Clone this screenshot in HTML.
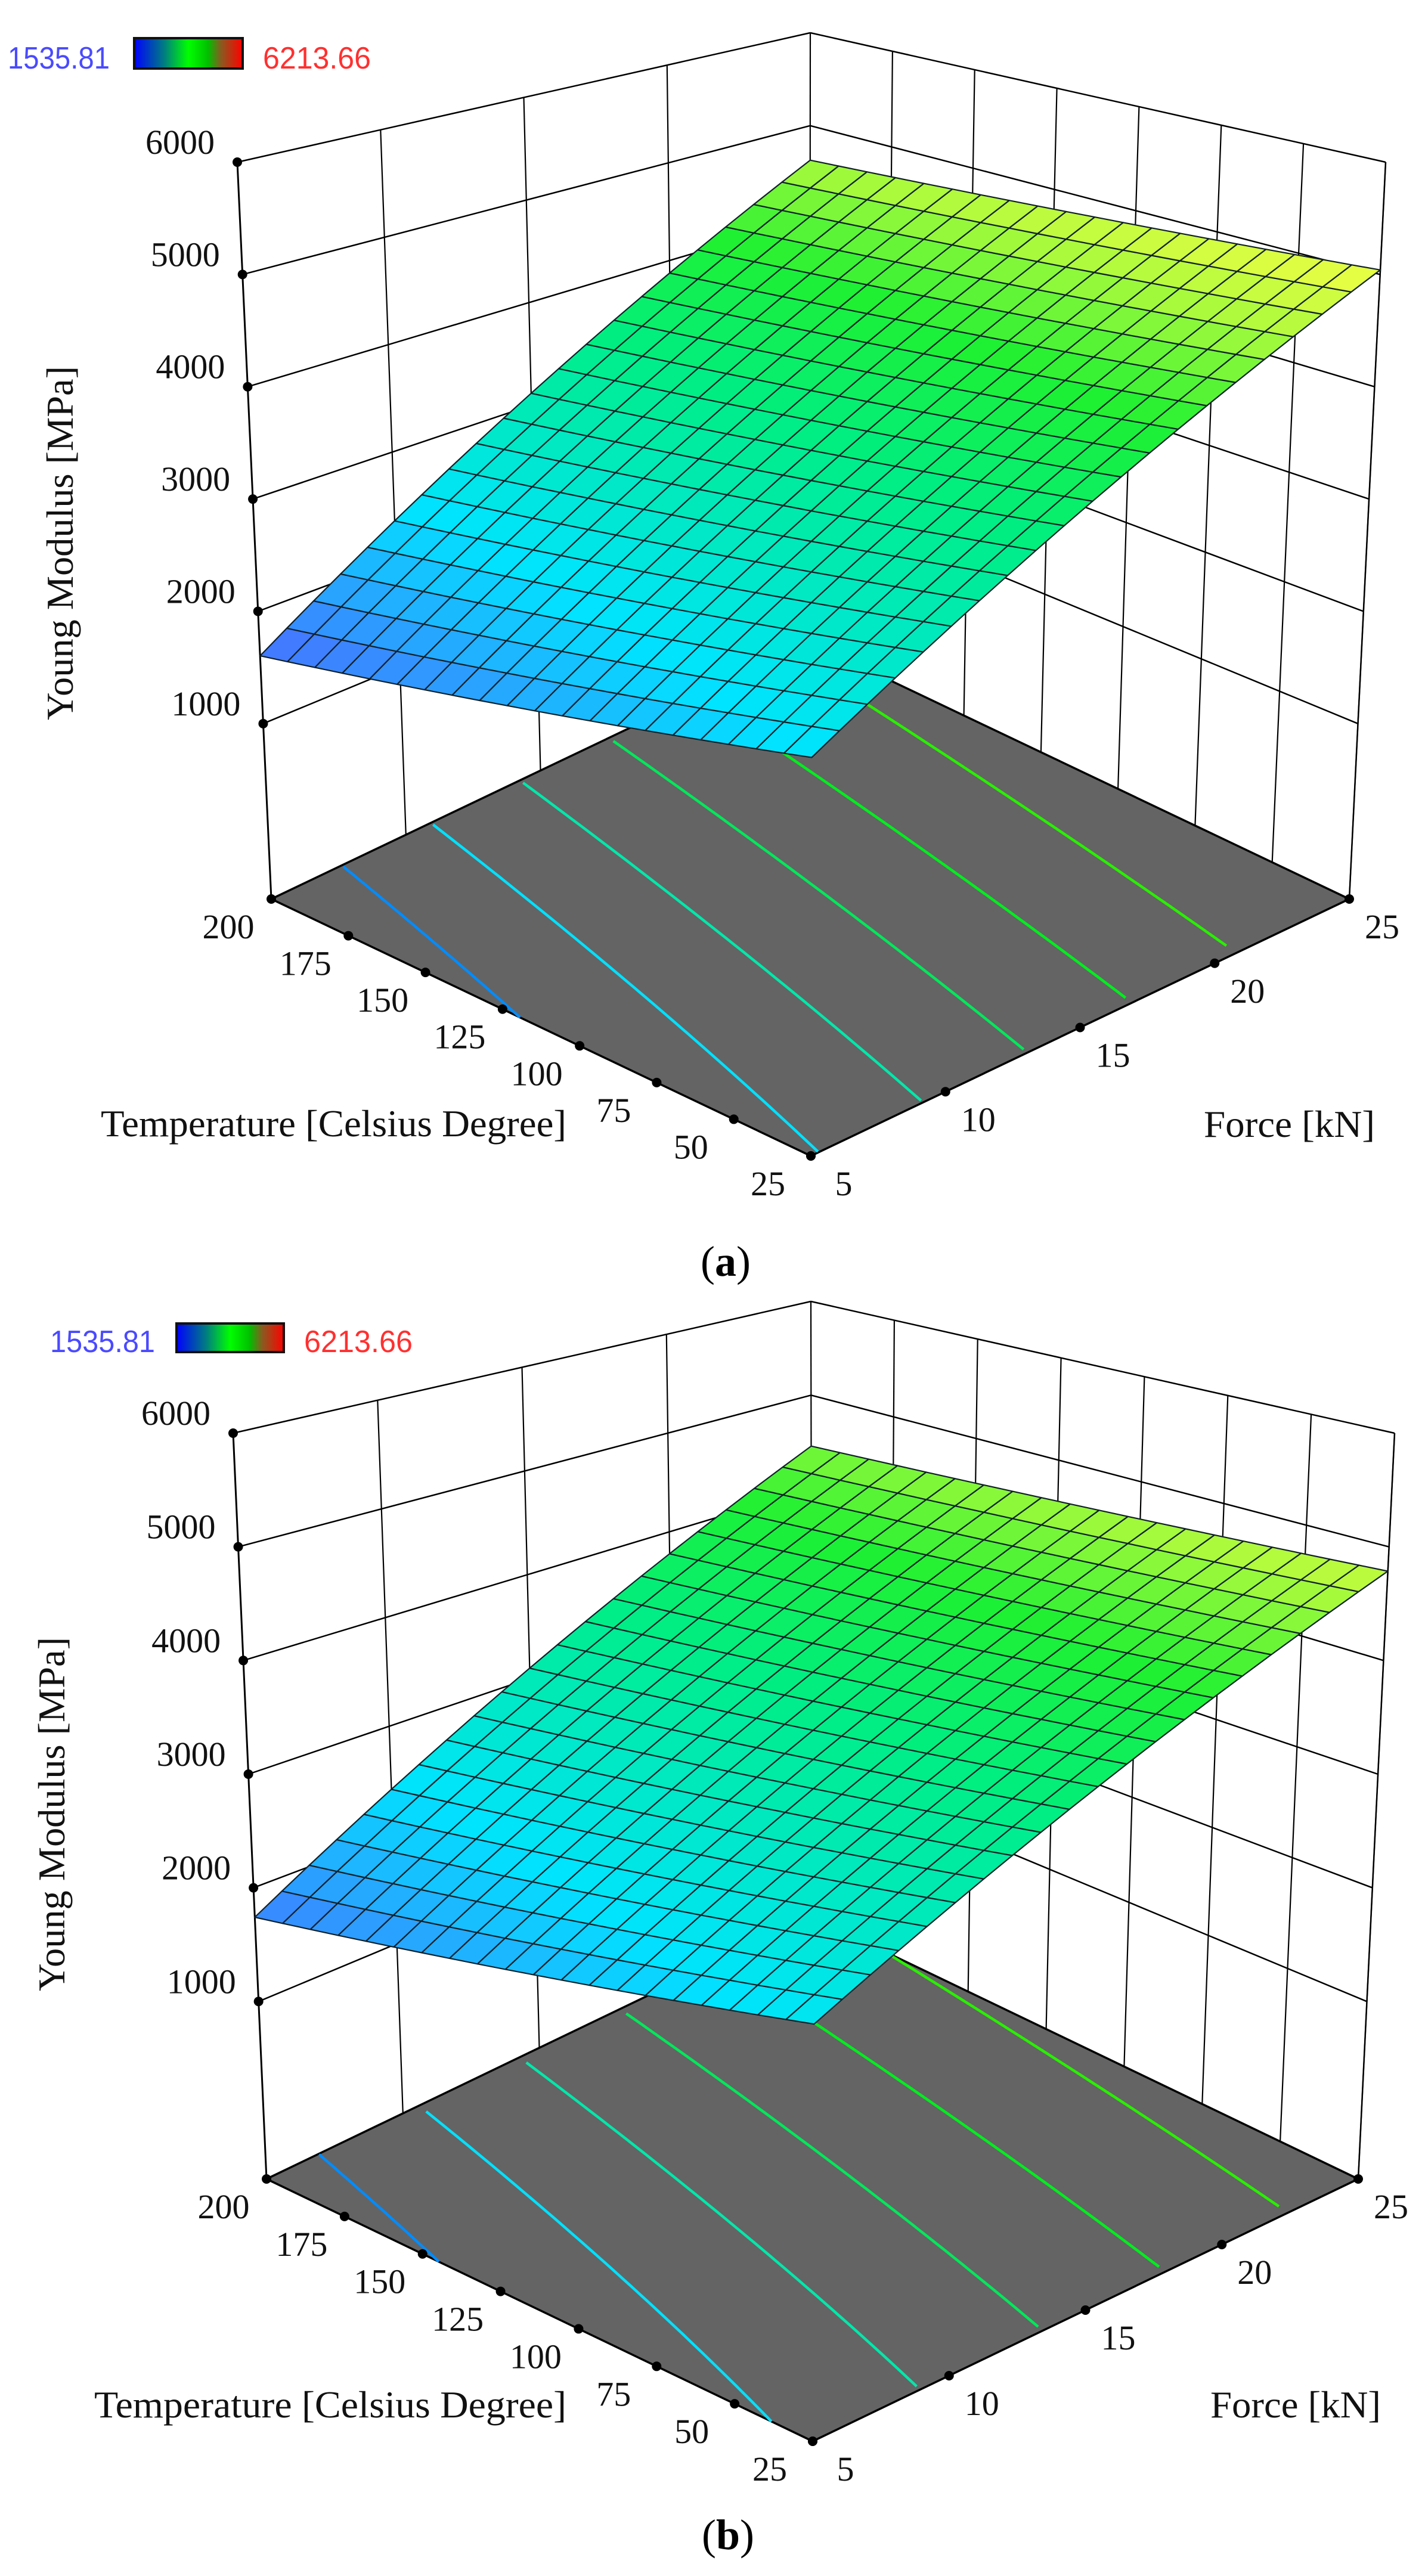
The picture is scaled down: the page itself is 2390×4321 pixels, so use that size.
<!DOCTYPE html>
<html><head><meta charset="utf-8">
<style>
html,body{margin:0;padding:0;background:#fff;}
svg{display:block;}
</style></head>
<body>
<svg id="s" xmlns="http://www.w3.org/2000/svg" width="2390" height="4321" viewBox="0 0 2390 4321">
<defs>
<linearGradient id="cb" x1="0" x2="1" y1="0" y2="0">
<stop offset="0" stop-color="#0000ff"/>
<stop offset="0.28" stop-color="#007f7f"/>
<stop offset="0.5" stop-color="#00ff00"/>
<stop offset="0.68" stop-color="#00c000"/>
<stop offset="0.8" stop-color="#8a5a20"/>
<stop offset="1" stop-color="#ff0000"/>
</linearGradient>
</defs>
<rect width="2390" height="4321" fill="#fff"/>
</svg>
<script>
var NS="http://www.w3.org/2000/svg";
var svg=document.getElementById("s");
function el(n,a,t){var e=document.createElementNS(NS,n);for(var k in a)e.setAttribute(k,a[k]);if(t!==undefined)e.textContent=t;svg.appendChild(e);return e;}
var stops=[[0,[80,100,255]],[0.2,[0,228,255]],[0.42,[0,238,130]],[0.55,[30,240,50]],[0.66,[170,250,60]],[0.76,[250,255,70]],[1,[255,60,40]]];
function cm(t){t=Math.max(0,Math.min(1,t));for(var i=1;i<stops.length;i++){if(t<=stops[i][0]){var a=stops[i-1],b=stops[i],f=(t-a[0])/(b[0]-a[0]);return "rgb("+[0,1,2].map(function(j){return Math.round(a[1][j]+(b[1][j]-a[1][j])*f)}).join(",")+")";}}return "rgb(255,60,40)";}
function hz(z){return 0.238+(z-1000)/5000*0.762;}
var SERIF="'Liberation Serif', serif", SANS="'Liberation Sans', sans-serif";
var CCOL=["rgb(0,140,255)","rgb(0,225,255)","rgb(0,232,170)","rgb(0,232,90)","rgb(0,238,30)","rgb(40,240,0)"];
function panel(p){
 function bl(A,u,v){return [A.F[0]*(1-u)*(1-v)+A.L[0]*u*(1-v)+A.R[0]*(1-u)*v+A.B[0]*u*v, A.F[1]*(1-u)*(1-v)+A.L[1]*u*(1-v)+A.R[1]*(1-u)*v+A.B[1]*u*v];}
 var fl={F:p.F,L:p.L,R:p.R,B:p.B}, hv={F:p.hF,L:p.hL,R:p.hR,B:p.hB};
 function P(u,v,h){var a=bl(fl,u,v),b=bl(hv,u,v);return [a[0]+b[0]*h,a[1]+b[1]*h];}
 function Z(u,v){return p.z00*(1-u)*(1-v)+p.z10*u*(1-v)+p.z01*(1-u)*v+p.z11*u*v;}
 function line(a,b,w,c){el("line",{x1:a[0].toFixed(1),y1:a[1].toFixed(1),x2:b[0].toFixed(1),y2:b[1].toFixed(1),stroke:c||"#000","stroke-width":w});}
 var zs=[1000,2000,3000,4000,5000,6000];
 zs.forEach(function(z){var h=hz(z);line(P(1,0,h),P(1,1,h),2.5);line(P(1,1,h),P(0,1,h),2.5);});
 [0.25,0.5,0.75,1].forEach(function(v){line(P(1,v,0),P(1,v,1),2.2);});
 for(var k=0;k<7;k++){line(P(k/7,1,0),P(k/7,1,1),2.2);}
 line(P(1,0,0),P(1,0,1),3);
 line(P(0,1,0),P(0,1,1),2.5);
 var f=[P(0,0,0),P(1,0,0),P(1,1,0),P(0,1,0)];
 el("polygon",{points:f.map(function(q){return q[0].toFixed(1)+","+q[1].toFixed(1)}).join(" "),fill:"#646464",stroke:"#000","stroke-width":3.5,"stroke-linejoin":"round"});
 [2000,2500,3000,3500,4000,4500].forEach(function(c,ci){
  var pts=[];
  for(var i=0;i<=200;i++){var v=i/200;var a=p.z00*(1-v)+p.z01*v,b=(p.z10-p.z00)*(1-v)+(p.z11-p.z01)*v;var u=(c-a)/b;if(u>=0&&u<=1){var q=P(u,v,0);pts.push(q[0].toFixed(1)+","+q[1].toFixed(1));}}
  if(pts.length>1)el("polyline",{points:pts.join(" "),fill:"none",stroke:CCOL[ci],"stroke-width":4.5});
 });
 var N=20;
 for(var i=0;i<N;i++)for(var j=0;j<N;j++){
  var u0=i/N,u1=(i+1)/N,v0=j/N,v1=(j+1)/N;
  var c=[[u0,v0],[u1,v0],[u1,v1],[u0,v1]].map(function(q){return P(q[0],q[1],hz(Z(q[0],q[1])));});
  var zm=Z((u0+u1)/2,(v0+v1)/2);
  el("polygon",{points:c.map(function(q){return q[0].toFixed(1)+","+q[1].toFixed(1)}).join(" "),fill:cm((zm-1535.81)/4677.85),stroke:"#102028","stroke-width":2.2,"stroke-linejoin":"round"});
 }
 var tA={"font-family":SERIF,"font-size":58,fill:"#111"};
 function T(a,t){var o={};for(var k in tA)o[k]=tA[k];for(var k in a)o[k]=a[k];return el("text",o,t);}
 zs.forEach(function(z){var q=P(1,0,hz(z));el("circle",{cx:q[0],cy:q[1],r:8,fill:"#000"});T({x:(q[0]-38).toFixed(1),y:(q[1]-14).toFixed(1),"text-anchor":"end"},String(z));});
 el("circle",{cx:p.L[0],cy:p.L[1],r:8,fill:"#000"});
 for(var k=0;k<8;k++){var Tv=200-25*k;var u=(Tv-25)/175;var q=P(u,0,0);if(k>0)el("circle",{cx:q[0],cy:q[1],r:8,fill:"#000"});T({x:(q[0]-72).toFixed(1),y:(q[1]+66).toFixed(1),"text-anchor":"middle"},String(Tv));}
 for(var k=0;k<5;k++){var Fv=5+5*k;var v=k/4;var q=P(0,v,0);el("circle",{cx:q[0],cy:q[1],r:8,fill:"#000"});T({x:(q[0]+55).toFixed(1),y:(q[1]+66).toFixed(1),"text-anchor":"middle"},String(Fv));}
 var tt={"font-family":SERIF,"font-size":64,fill:"#111",lengthAdjust:"spacingAndGlyphs"};
 function TT(a,t){var o={};for(var k in tt)o[k]=tt[k];for(var k in a)o[k]=a[k];return el("text",o,t);}
 TT({x:p.yt[0],y:p.yt[1]+22,transform:"rotate(-90 "+p.yt[0]+" "+p.yt[1]+")","text-anchor":"middle",textLength:p.ytl},"Young Modulus [MPa]");
 TT({x:p.tt[0],y:p.tt[1]+22,textLength:p.tt[2]},"Temperature [Celsius Degree]");
 TT({x:p.ft[0],y:p.ft[1]+22,textLength:p.ft[2]},"Force [kN]");
 var lg=p.lg;
 el("text",{x:lg.x1,y:lg.base,"font-family":SANS,"font-size":52,fill:"#4a4aff",textLength:lg.w1,lengthAdjust:"spacingAndGlyphs"},"1535.81");
 el("rect",{x:lg.bx,y:lg.by,width:lg.bw,height:lg.bh,fill:"url(#cb)",stroke:"#111","stroke-width":4});
 el("text",{x:lg.x2,y:lg.base,"font-family":SANS,"font-size":52,fill:"#ff3030",textLength:lg.w2,lengthAdjust:"spacingAndGlyphs"},"6213.66");
 var cp=el("text",{x:p.cap[0],y:p.cap[1]+25,"text-anchor":"middle","font-family":SERIF,"font-size":72,fill:"#000"});
 var t1=document.createElementNS(NS,"tspan");t1.textContent="(";cp.appendChild(t1);
 var t2=document.createElementNS(NS,"tspan");t2.setAttribute("font-weight","bold");t2.textContent=p.capL;cp.appendChild(t2);
 var t3=document.createElementNS(NS,"tspan");t3.textContent=")";cp.appendChild(t3);
}
panel({F:[1360,1939],L:[455,1508],R:[2263,1508],B:[1358,1077],hF:[3,-1450],hL:[-57,-1236],hR:[61,-1236],hB:[1,-1022],
 z00:2463,z10:1604,z01:5040,z11:4628,
 yt:[100,911],ytl:594,tt:[169,1884,781],ft:[2019,1885,287],
 lg:{x1:13,w1:171,base:115,bx:225,by:64,bw:182,bh:51,x2:441,w2:181},cap:[1217,2115],capL:"a"});
panel({F:[1363,4095],L:[447,3655],R:[2278,3655],B:[1362,3215],hF:[5,-1470],hL:[-56,-1251],hR:[61,-1251],hB:[-2,-1032],
 z00:2562,z10:1741,z01:4786,z11:4457,
 yt:[86,3043],ytl:594,tt:[158,4033,792],ft:[2030,4033,286],
 lg:{x1:84,w1:176,base:2268,bx:296,by:2220,bw:180,bh:48,x2:510,w2:182},cap:[1221,4251],capL:"b"});
</script>
</body></html>
